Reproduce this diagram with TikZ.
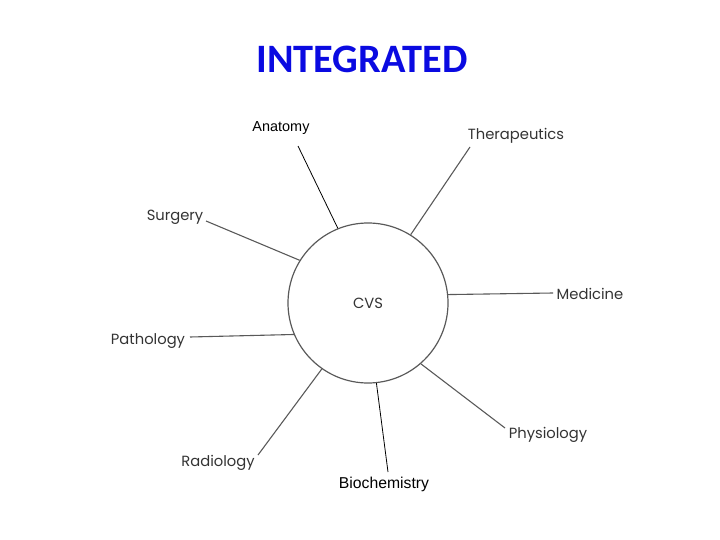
\documentclass[tikz,border=0pt]{standalone}
\usepackage{fontspec}
\newfontfamily\poppins{Poppins}
\newfontfamily\carlito{Carlito}
\newfontfamily\arialfont{Liberation Sans}
\definecolor{titleblue}{RGB}{10,10,225}
\usetikzlibrary{positioning}

\begin{document}
\begin{tikzpicture}[x=1bp, y=-1bp, scan/.style={text=black!80, font=\poppins\fontsize{14.8}{17}\selectfont}, typed/.style={text=black, font=\arialfont\fontsize{14.5}{17}\selectfont}, ray/.style={draw=black!65, line width=1.1pt}, typedray/.style={draw=black, line width=0.8pt}]
\useasboundingbox (0,0) rectangle (720,540);
\node[font=\carlito\bfseries\fontsize{40.5}{45}\selectfont, text=titleblue] (title) at (362,59) {INTEGRATED};
\node[circle, draw=black!65, line width=1.2pt, minimum size=160bp, inner sep=0pt, scan] (cvs) at (368,303) {CVS};
% subjects round the system
\foreach \name/\txt/\x/\y in {therapeutics/Therapeutics/516/136, surgery/Surgery/175/217, medicine/Medicine/590/294, pathology/Pathology/148/341, radiology/Radiology/218/463, physiology/Physiology/548/435}
  \node[scan] (\name) at (\x,\y) {\txt};
\node[typed] (anatomy) at (281,128) {Anatomy};
\node[typed, font=\arialfont\fontsize{15.8}{18}\selectfont] (biochemistry) at (384,484) {Biochemistry};
% free ends of the spokes
\foreach \name/\x/\y in {anatomy/298/146, therapeutics/470/147, surgery/206/221, medicine/553/293, pathology/190/337, radiology/258/455, physiology/505/428, biochemistry/388/472}
  \coordinate (\name-end) at (\x,\y);
\foreach \name/\ang in {therapeutics/58.2, surgery/148.7, medicine/6.5, pathology/203, radiology/235.5, physiology/311.9}
  \draw[ray] (cvs.\ang) -- (\name-end);
\foreach \name/\ang in {anatomy/112.7, biochemistry/276.3}
  \draw[typedray] (cvs.\ang) -- (\name-end);
\end{tikzpicture}
\end{document}
